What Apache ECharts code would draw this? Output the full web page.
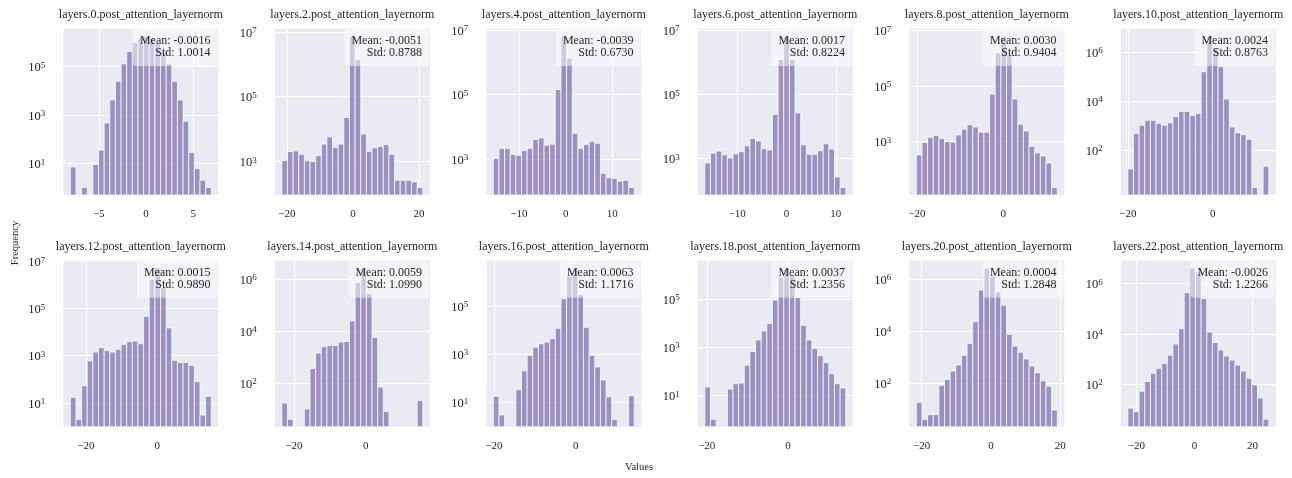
<!DOCTYPE html>
<html><head><meta charset="utf-8">
<script src="https://cdn.jsdelivr.net/npm/echarts@6/dist/echarts.min.js"></script>
<style>html,body{margin:0;padding:0;background:#fff}#c{width:1292px;height:478px}</style>
</head><body><div id="c"></div>
<script>
// ---------- data ----------
const layerNames = ['layers.0.post_attention_layernorm','layers.2.post_attention_layernorm','layers.4.post_attention_layernorm','layers.6.post_attention_layernorm','layers.8.post_attention_layernorm','layers.10.post_attention_layernorm','layers.12.post_attention_layernorm','layers.14.post_attention_layernorm','layers.16.post_attention_layernorm','layers.18.post_attention_layernorm','layers.20.post_attention_layernorm','layers.22.post_attention_layernorm'];
const means = ['-0.0016','-0.0051','-0.0039','0.0017','0.0030','0.0024','0.0015','0.0059','0.0063','0.0037','0.0004','-0.0026'];
const stds = ['1.0014','0.8788','0.6730','0.8224','0.9404','0.8763','0.9890','1.0990','1.1716','1.2356','1.2848','1.2266'];
// data min / max of each layer (25 equal bins between them)
const dataRanges = [[-8.01,6.92],[-21.5,21.1],[-15.5,14.7],[-16.54,12.02],[-20.15,12.5],[-19.99,13.16],[-24.38,15.12],[-23.34,15.9],[-20.15,14.35],[-20.47,14.19],[-21.56,19.16],[-22.97,25.62]];
const xTickValues = [[-5,0,5],[-20,0,20],[-10,0,10],[-10,0,10],[-20,0],[-20,0],[-20,0],[-20,0],[-20,0],[-20,0],[-20,0,20],[-20,0,20]];
const yTickExponents = [[1,3,5],[3,5,7],[3,5,7],[3,5,7],[3,5,7],[2,4,6],[1,3,5,7],[2,4,6],[1,3,5],[1,3,5],[2,4,6],[2,4,6]];

const countsL0  = [7,0,1,0,9,35,466,4170,25000,129000,420000,980000,1600000,1800000,1500000,900000,400000,129000,24500,4200,550,28,6,2,1];
const countsL2  = [1050,2000,2100,1640,1050,980,1490,3400,5700,2700,3400,22700,7400000,1400000,7000,2000,2600,2900,3300,1640,260,260,260,230,155];
const countsL4  = [1020,2100,2100,1360,1300,1800,2100,4000,4450,2650,2840,141000,6300000,1300000,6200,2100,2800,3500,3050,355,260,245,205,215,130];
const countsL6  = [740,1490,1720,1330,1050,1420,1640,2500,4200,3550,2030,1850,23600,1200000,6300000,1200000,26500,2700,1360,1360,1770,2900,1980,270,128];
const countsL8  = [325,920,1420,1620,1270,1000,950,1710,2770,4000,3330,2170,2170,51000,1600000,6200000,1300000,34000,4150,2400,670,390,300,166,22];
const countsL10 = [17,470,1020,1620,1620,1230,1020,1290,2300,3700,3700,2570,3100,155000,4300000,1500000,250000,12000,870,510,430,277,3,0,22];
const countsL12 = [17,2,53,600,1420,2170,1670,1420,1850,3000,3900,4150,3200,46000,1700000,5200000,760000,15000,630,510,510,390,79,3,19];
const countsL14 = [17,4,0,0,10,355,1410,2450,2750,2750,3700,3900,24000,740000,2600000,275000,5600,69,8,0,0,0,0,0,21];
const countsL16 = [18,3,0,0,33,205,890,1950,2700,3150,4300,11700,200000,1700000,3700000,300000,13000,890,295,85,17,2,0,0,19];
const countsL18 = [22,1,0,0,18,30,32,178,660,2000,4650,9500,91000,790000,1950000,960000,115000,8100,2000,890,440,230,79,30,20];
const countsL20 = [18,4,6,6,81,135,285,490,1150,3300,22500,370000,2600000,1230000,316000,96000,7400,2600,1500,830,450,245,120,74,9];
const countsL22 = [11,8,52,127,270,425,660,1410,3900,16000,430000,4100000,2900000,250000,11700,4500,2240,1300,900,570,330,170,94,28,4];
const allCounts = [countsL0,countsL2,countsL4,countsL6,countsL8,countsL10,countsL12,countsL14,countsL16,countsL18,countsL20,countsL22];

// ---------- layout / style ----------
const FONT = '"Liberation Serif", "Times New Roman", serif';
const TXT = '#262626';
const colLeft0 = 63.3, colPitch = 211.5, plotW = 155;
const rowTops = [28.7, 260.5], plotH = 166.3;

const grids = [], xAxes = [], yAxes = [], series = [], titles = [];
const fmtX = v => (v < 0 ? '\u2212' + Math.abs(v) : String(v));

allCounts.forEach((counts, k) => {
  const col = k % 6, row = Math.floor(k / 6);
  const L = colLeft0 + col * colPitch, T = rowTops[row];
  grids.push({left: L, top: T, width: plotW, height: plotH, show: true,
    backgroundColor: '#EAEAF2', borderWidth: 0, containLabel: false});

  const [lo, hi] = dataRanges[k];
  const span = hi - lo, bw = span / counts.length;
  xAxes.push({type: 'value', gridIndex: k, min: lo - 0.05 * span, max: hi + 0.05 * span,
    axisLine: {show: false}, axisTick: {show: false, customValues: xTickValues[k]},
    axisLabel: {customValues: xTickValues[k], formatter: fmtX, margin: 14,
      fontFamily: FONT, fontSize: 11, color: TXT},
    splitLine: {show: true, lineStyle: {color: '#ffffff', width: 1.1}}});

  const pos = counts.filter(c => c > 0);
  const lmin = Math.log10(Math.min(...pos)), lmax = Math.log10(Math.max(...pos));
  const yMin = Math.pow(10, lmin - 0.05 * (lmax - lmin));
  const yMax = Math.pow(10, lmax + 0.05 * (lmax - lmin));
  const yVals = yTickExponents[k].map(e => Math.pow(10, e));
  yAxes.push({type: 'log', logBase: 10, gridIndex: k, min: yMin, max: yMax,
    axisLine: {show: false}, axisTick: {show: false, customValues: yVals},
    axisLabel: {customValues: yVals, margin: 18, showMaxLabel: true, showMinLabel: true,
      formatter: v => '{b|10}{s|' + Math.round(Math.log10(v)) + '}',
      rich: {b: {fontFamily: FONT, fontSize: 12.5, color: TXT, lineHeight: 15, padding: [3, 0, 0, 0]},
             s: {fontFamily: FONT, fontSize: 9, color: TXT, lineHeight: 9, padding: [2, 0, 0, 0], verticalAlign: 'top'}}},
    splitLine: {show: true, lineStyle: {color: '#ffffff', width: 1.1}}});

  const data = [];
  counts.forEach((c, i) => { if (c > 0) data.push([lo + i * bw, lo + (i + 1) * bw, c]); });
  series.push({type: 'custom', xAxisIndex: k, yAxisIndex: k, clip: true,
    dimensions: ['x0', 'x1', 'count'], encode: {x: [0, 1], y: 2}, data,
    renderItem: (params, api) => {
      const a = api.coord([api.value(0), api.value(2)]);
      const b = api.coord([api.value(1), yMin]);
      return {type: 'rect', shape: {x: a[0], y: a[1], width: b[0] - a[0], height: b[1] - a[1]},
        style: {fill: '#8172B3', stroke: '#ffffff', lineWidth: 1, opacity: 0.75}};
    }});

  titles.push({text: layerNames[k], left: L + plotW / 2, top: T - 13.7, textAlign: 'center',
    textVerticalAlign: 'middle', padding: 0,
    textStyle: {fontFamily: FONT, fontSize: 12, fontWeight: 'normal', color: TXT}});
  const textRight = L + 0.95 * plotW;
  titles.push({text: 'Mean: ' + means[k] + '\nStd: ' + stds[k], left: textRight - 7,
    top: T + 0.05 * plotH - 2 - 6, textAlign: 'right', textVerticalAlign: 'top',
    padding: [6, 7, 7, 7], backgroundColor: 'rgba(255,255,255,0.5)', borderRadius: 4,
    textStyle: {fontFamily: FONT, fontSize: 12, fontWeight: 'normal', color: TXT, lineHeight: 12}});
});

const chart = echarts.init(document.getElementById('c'), null, {renderer: 'canvas'});
chart.setOption({
  animation: false,
  backgroundColor: '#ffffff',
  title: titles, grid: grids, xAxis: xAxes, yAxis: yAxes, series,
  graphic: [
    {type: 'text', x: 15, y: 243, rotation: Math.PI / 2,
      style: {text: 'Frequency', align: 'center', verticalAlign: 'middle', font: '10.5px ' + FONT, fill: TXT}},
    {type: 'text', x: 639, y: 467,
      style: {text: 'Values', align: 'center', verticalAlign: 'middle', font: '10.5px ' + FONT, fill: TXT}}
  ]
});
</script></body></html>
